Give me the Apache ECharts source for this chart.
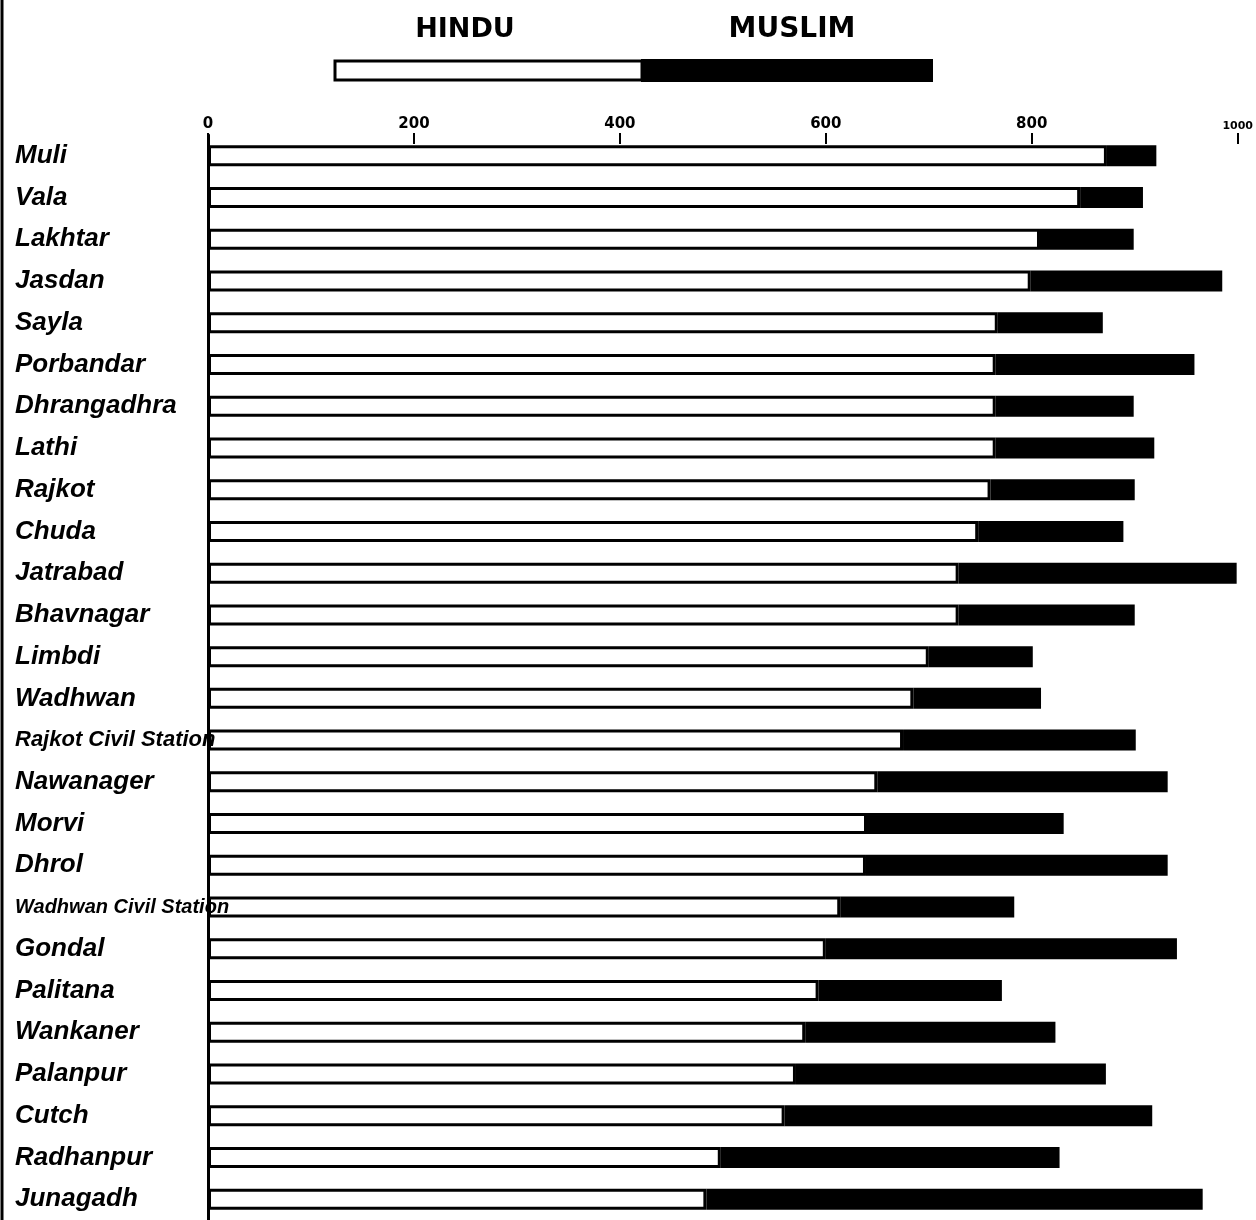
<!DOCTYPE html>
<html>
<head>
<meta charset="utf-8">
<script src="https://cdn.jsdelivr.net/npm/echarts@6/dist/echarts.min.js"></script>
<style>
html,body{margin:0;padding:0;background:#fff;}
#chart{width:1256px;height:1220px;}
</style>
</head>
<body>
<div id="chart"></div>
<script>
var states = ["Muli","Vala","Lakhtar","Jasdan","Sayla","Porbandar","Dhrangadhra","Lathi","Rajkot","Chuda","Jatrabad","Bhavnagar","Limbdi","Wadhwan","Rajkot Civil Station","Nawanager","Morvi","Dhrol","Wadhwan Civil Station","Gondal","Palitana","Wankaner","Palanpur","Cutch","Radhanpur","Junagadh"];
var hindu = [873,847,808,799,767,765,765,765,760,748,729,729,700,685,675,650,640,639,614,600,593,580,571,560,498,484];
var muslim = [48,61,91,186,102,193,134,154,140,141,270,171,101,124,226,282,191,293,169,341,178,243,301,357,329,482];
var xTicks = [0,200,400,600,800,1000];

var chart = echarts.init(document.getElementById('chart'));
var option = {
  backgroundColor: '#ffffff',
  animation: false,
  grid: {left: 208, right: 18, top: 135, bottom: 0, containLabel: false},
  xAxis: {
    type: 'value', position: 'top', min: 0, max: 1000, interval: 200, offset: -9,
    axisLine: {show: false},
    axisTick: {show: true, length: 11, lineStyle: {color: '#000', width: 2}},
    splitLine: {show: false},
    axisLabel: {margin: 12, color: '#000', fontSize: 15, fontWeight: 'bold', fontFamily: 'DejaVu Sans',
      formatter: function(v){ return xTicks.indexOf(v) >= 0 ? (v === 1000 ? '{s|' + v + '}' : String(v)) : ''; },
      rich: {s: {fontSize: 11, fontWeight: 'bold', fontFamily: 'DejaVu Sans', color: '#000'}}}
  },
  yAxis: {
    type: 'category', data: states, inverse: true, z: 5,
    axisLine: {show: true, lineStyle: {color: '#000', width: 3}},
    axisTick: {show: false},
    splitLine: {show: false},
    axisLabel: {align: 'left', margin: 193, color: '#000', fontSize: 26, fontStyle: 'italic', fontWeight: 'bold', fontFamily: 'Liberation Sans',
      formatter: function(v){
        if (v === 'Rajkot Civil Station') return '{m|' + v + '}';
        if (v === 'Wadhwan Civil Station') return '{n|' + v + '}';
        return v;
      },
      rich: {
        m: {fontSize: 22, fontStyle: 'italic', fontWeight: 'bold', fontFamily: 'Liberation Sans', color: '#000'},
        n: {fontSize: 20, fontStyle: 'italic', fontWeight: 'bold', fontFamily: 'Liberation Sans', color: '#000'}
      }}
  },
  series: [
    {name: 'HINDU', type: 'bar', stack: 'pop', data: hindu, barWidth: 21,
      itemStyle: {color: '#ffffff', borderColor: '#000', borderWidth: 3}},
    {name: 'MUSLIM', type: 'bar', stack: 'pop', data: muslim, barWidth: 21,
      itemStyle: {color: '#000000', borderColor: '#000', borderWidth: 3}}
  ],
  graphic: [
    {type: 'text', x: 465, y: 30, style: {text: 'HINDU', fill: '#000', font: 'bold 27px "DejaVu Sans"', textAlign: 'center', textVerticalAlign: 'middle'}},
    {type: 'text', x: 792, y: 30, style: {text: 'MUSLIM', fill: '#000', font: 'bold 28px "DejaVu Sans"', textAlign: 'center', textVerticalAlign: 'middle'}},
    {type: 'rect', shape: {x: 335, y: 61, width: 307, height: 19}, style: {fill: '#fff', stroke: '#000', lineWidth: 3}},
    {type: 'rect', shape: {x: 642, y: 60, width: 290, height: 21}, style: {fill: '#000', stroke: '#000', lineWidth: 2}},
    {type: 'line', shape: {x1: 2, y1: 0, x2: 2, y2: 1220}, style: {stroke: '#000', lineWidth: 3}}
  ]
};
chart.setOption(option);
</script>
</body>
</html>
